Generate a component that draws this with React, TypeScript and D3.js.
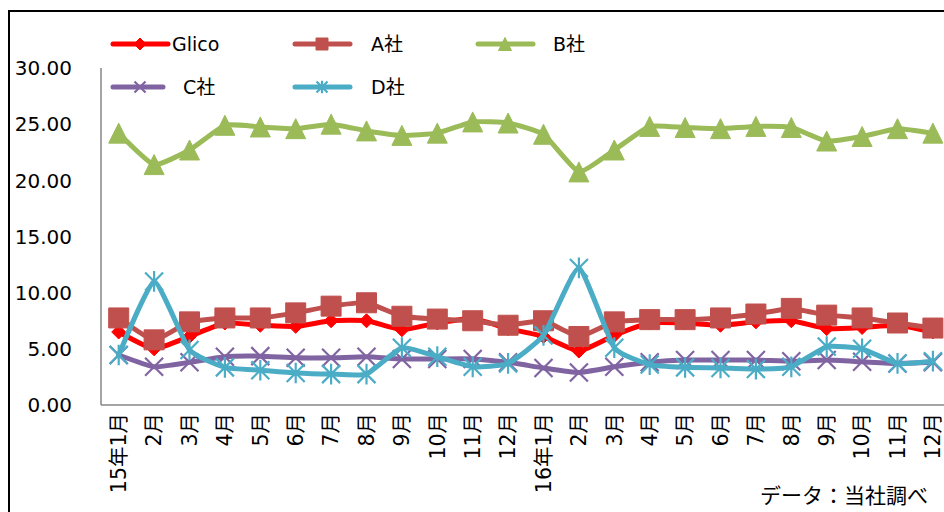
import React from "react";
import * as d3 from "d3";

const months = [
  "15年1月", "2月", "3月", "4月", "5月", "6月", "7月", "8月", "9月", "10月", "11月", "12月",
  "16年1月", "2月", "3月", "4月", "5月", "6月", "7月", "8月", "9月", "10月", "11月", "12月",
];
const glico = [6.5, 5.0, 6.1, 7.3, 7.1, 7.0, 7.5, 7.5, 6.7, 7.3, 7.7, 6.8, 6.1, 4.8, 6.2, 7.3, 7.3, 7.1, 7.4, 7.5, 6.8, 6.9, 7.1, 6.5];
const companyA = [7.75, 5.8, 7.4, 7.75, 7.75, 8.2, 8.8, 9.1, 7.9, 7.65, 7.5, 7.1, 7.5, 6.1, 7.4, 7.6, 7.6, 7.75, 8.1, 8.6, 8.0, 7.75, 7.3, 6.85];
const companyB = [24.2, 21.4, 22.7, 24.9, 24.75, 24.6, 25.0, 24.4, 24.0, 24.2, 25.2, 25.1, 24.1, 20.75, 22.7, 24.8, 24.7, 24.6, 24.8, 24.7, 23.5, 23.9, 24.6, 24.2];
const companyC = [4.45, 3.4, 3.8, 4.3, 4.35, 4.2, 4.2, 4.3, 4.1, 4.1, 4.1, 3.8, 3.3, 2.9, 3.4, 3.8, 4.0, 4.0, 4.0, 3.9, 4.0, 3.85, 3.7, 3.8];
const companyD = [4.45, 11.0, 4.9, 3.35, 3.1, 2.85, 2.75, 2.75, 5.1, 4.3, 3.4, 3.7, 6.2, 12.2, 5.1, 3.6, 3.35, 3.3, 3.2, 3.4, 5.2, 5.0, 3.7, 3.9];
const seriesNames = ["Glico", "A社", "B社", "C社", "D社"];
const seriesColors = ["#FF0000", "#C0504D", "#9BBB59", "#8064A2", "#4BACC6"];
const seriesMarkers = ["diamond", "square", "triangle", "x", "asterisk"];
const yTicks = [0, 5, 10, 15, 20, 25, 30];
const sourceNote = "データ：当社調べ";

const series = [glico, companyA, companyB, companyC, companyD].map((values, i) => ({
  name: seriesNames[i],
  color: seriesColors[i],
  marker: seriesMarkers[i],
  values,
}));

const FONT = "'DejaVu Sans', 'Noto Sans CJK JP', sans-serif";

function markerPath(kind: string, s: number): string {
  const h = s / 2;
  switch (kind) {
    case "diamond":
      return `M0,${-h}L${h},0L0,${h}L${-h},0Z`;
    case "square":
      return `M${-h},${-h}H${h}V${h}H${-h}Z`;
    case "triangle":
      return `M0,${-h}L${h},${h}L${-h},${h}Z`;
    case "x":
      return `M${-h},${-h}L${h},${h}M${h},${-h}L${-h},${h}`;
    case "asterisk":
      return `M${-h},${-h}L${h},${h}M${h},${-h}L${-h},${h}M0,${-h * 1.15}V${h * 1.15}`;
    default:
      return "";
  }
}
const markerSize: Record<string, number> = { diamond: 14, square: 20, triangle: 20, x: 18, asterisk: 18 };
const legendMarkerSize: Record<string, number> = { diamond: 12, square: 12, triangle: 13, x: 11, asterisk: 11 };

function Marker({ kind, color, size, x, y }: { kind: string; color: string; size: number; x: number; y: number }) {
  const stroked = kind === "x" || kind === "asterisk";
  return (
    <path
      d={markerPath(kind, size)}
      transform={`translate(${x},${y})`}
      fill={stroked ? "none" : color}
      stroke={color}
      strokeWidth={stroked ? 2.2 : 1}
      strokeLinejoin="miter"
    />
  );
}

export default function App() {
  const width = 944;
  const height = 512;
  const plotLeft = 101;
  const step = 35.4;
  const x = d3
    .scaleBand<number>()
    .domain(d3.range(months.length))
    .range([plotLeft, plotLeft + step * months.length])
    .padding(0);
  const cx = (i: number) => (x(i) as number) + x.bandwidth() / 2;
  const y = d3.scaleLinear().domain([0, 30]).range([405, 68]);

  const line = d3
    .line<number>()
    .x((_, i) => cx(i))
    .y((d) => y(d))
    .curve(d3.curveCardinal.tension(0.55));

  const legendPos = [
    { lx: 113, ly: 44, tx: 172, len: 55 },
    { lx: 295, ly: 44, tx: 371, len: 55 },
    { lx: 478, ly: 44, tx: 553, len: 55 },
    { lx: 113, ly: 87, tx: 183, len: 50 },
    { lx: 295, ly: 87, tx: 371, len: 55 },
  ];

  return (
    <svg
      width={width}
      height={height}
      style={{ position: "absolute", left: 0, top: 0, background: "#fff" }}
      fontFamily={FONT}
    >
      <rect x={0} y={0} width={width} height={height} fill="#fff" />
      <rect x={9} y={11} width={width + 20} height={height + 20} fill="none" stroke="#000" strokeWidth={2} />

      {/* axes */}
      <line x1={plotLeft} x2={plotLeft} y1={y(30)} y2={y(0)} stroke="#868686" strokeWidth={1.5} />
      <line x1={plotLeft} x2={width} y1={y(0)} y2={y(0)} stroke="#868686" strokeWidth={1.5} />

      {yTicks.map((t) => (
        <text key={t} x={72} y={y(t)} dy="0.36em" textAnchor="end" fontSize={20} fill="#000">
          {d3.format(".2f")(t)}
        </text>
      ))}

      {months.map((m, i) => (
        <text
          key={i}
          transform={`translate(${cx(i)},413) rotate(-90)`}
          textAnchor="end"
          dy="0.36em"
          fontSize={20.5}
          fill="#000"
        >
          {m}
        </text>
      ))}

      {/* series */}
      {series.map((s) => (
        <g key={s.name}>
          <path d={line(s.values) || ""} fill="none" stroke={s.color} strokeWidth={5} strokeLinejoin="round" strokeLinecap="round" />
          {s.values.map((v, i) => (
            <Marker key={i} kind={s.marker} color={s.color} size={markerSize[s.marker]} x={cx(i)} y={y(v)} />
          ))}
        </g>
      ))}

      {/* legend */}
      {series.map((s, i) => {
        const p = legendPos[i];
        return (
          <g key={s.name}>
            <line x1={p.lx} x2={p.lx + p.len} y1={p.ly} y2={p.ly} stroke={s.color} strokeWidth={5} strokeLinecap="round" />
            <Marker kind={s.marker} color={s.color} size={legendMarkerSize[s.marker]} x={p.lx + 27} y={p.ly} />
            <text x={p.tx} y={p.ly} dy="0.36em" fontSize={19} fill="#000">
              {s.name}
            </text>
          </g>
        );
      })}

      <text x={928} y={495} dy="0.36em" textAnchor="end" fontSize={21} fontFamily="'Noto Sans CJK JP', sans-serif" fill="#000">
        {sourceNote}
      </text>
    </svg>
  );
}
